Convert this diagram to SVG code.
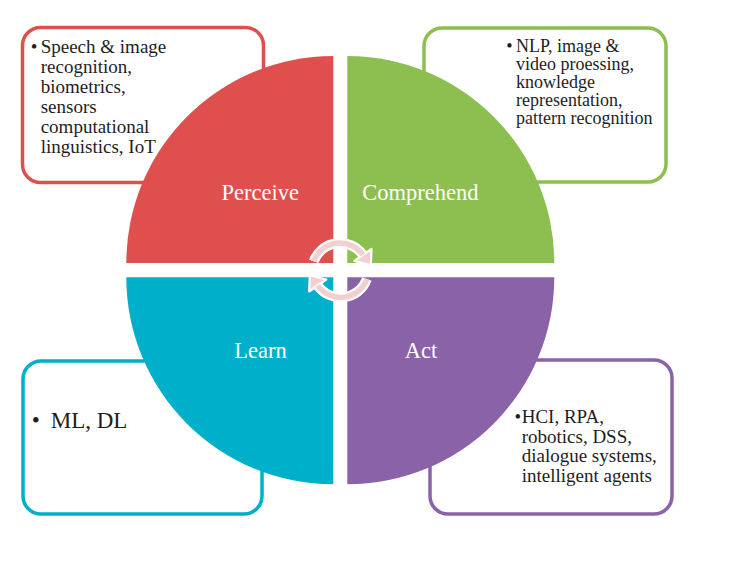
<svg xmlns="http://www.w3.org/2000/svg" width="734" height="566" viewBox="0 0 734 566">
<style>
.box{fill:#fff;stroke-width:3.5}
.t{font-family:"Liberation Serif","Times New Roman",serif;fill:#1e1e1e}
.lbl{font-family:"Liberation Serif","Times New Roman",serif;fill:#fff;font-size:22.5px;text-anchor:middle}
.arcO{fill:none;stroke:#fff;stroke-width:10}
.arcI{fill:none;stroke:#f2d0d0;stroke-width:5.5}
</style>
<defs>
<g id="arrow">
<path class="arcO" d="M313.7,261.4 A28,28 0 0 1 362.9,254.9"/>
<polygon points="371.5,248.9 354.3,260.9 370.8,265.2" fill="#f2d0d0" stroke="#fff" stroke-width="2.2" stroke-linejoin="round"/>
<path class="arcI" d="M313.7,261.4 A28,28 0 0 1 362.9,254.9"/>
</g>
</defs>
<rect width="734" height="566" fill="#fff"/>
<g id="box-perceive">
<rect class="box" x="22.5" y="27.5" width="241" height="155" rx="18" stroke="#df4f4d"/>
<text class="t" font-size="19" x="30.7" y="52.5">•</text>
<text class="t" font-size="19">
<tspan x="40.7" y="52.5">Speech &amp; image</tspan>
<tspan x="40.7" y="72.5">recognition,</tspan>
<tspan x="40.7" y="92.5">biometrics,</tspan>
<tspan x="40.7" y="112.5">sensors</tspan>
<tspan x="40.7" y="132.5">computational</tspan>
<tspan x="40.7" y="152.5">linguistics, IoT</tspan>
</text>
</g>
<g id="box-comprehend">
<rect class="box" x="424" y="28" width="242" height="154" rx="18" stroke="#8cbf4f"/>
<text class="t" font-size="18" x="506.2" y="52">•</text>
<text class="t" font-size="18">
<tspan x="516" y="52">NLP, image &amp;</tspan>
<tspan x="516" y="70.1">video proessing,</tspan>
<tspan x="516" y="88.2">knowledge</tspan>
<tspan x="516" y="106.3">representation,</tspan>
<tspan x="516" y="124.4">pattern recognition</tspan>
</text>
</g>
<g id="box-learn">
<rect class="box" x="23" y="361" width="239" height="153" rx="18" stroke="#00afc9"/>
<text class="t" font-size="23" x="31.7" y="428">•</text>
<text class="t" font-size="23" x="50.7" y="428">ML, DL</text>
</g>
<g id="box-act">
<rect class="box" x="430" y="360" width="242" height="154" rx="18" stroke="#8a62a8"/>
<text class="t" font-size="19" x="514.4" y="423">•</text>
<text class="t" font-size="19">
<tspan x="521.7" y="423">HCI, RPA,</tspan>
<tspan x="521.7" y="442.5">robotics, DSS,</tspan>
<tspan x="521.7" y="462">dialogue systems,</tspan>
<tspan x="521.7" y="481.5">intelligent agents</tspan>
</text>
</g>
<g id="perceive">
<path d="M333.3,263 L126.3,263 A207,207 0 0 1 333.3,56 Z" fill="#df4f4d"/>
<text class="lbl" x="260.3" y="200">Perceive</text>
</g>
<g id="comprehend">
<path d="M347.3,263 L347.3,56 A207,207 0 0 1 554.3,263 Z" fill="#8cbf4f"/>
<text class="lbl" x="420.3" y="200">Comprehend</text>
</g>
<g id="learn">
<path d="M333.3,277.3 L333.3,484.3 A207,207 0 0 1 126.3,277.3 Z" fill="#00afc9"/>
<text class="lbl" x="260.5" y="358.3">Learn</text>
</g>
<g id="act">
<path d="M347.3,277.3 L554.3,277.3 A207,207 0 0 1 347.3,484.3 Z" fill="#8a62a8"/>
<text class="lbl" x="421" y="358.3">Act</text>
</g>
<g id="connectors">
<use href="#arrow"/>
<use href="#arrow" transform="rotate(180 340.3 270.2)"/>
</g>
</svg>
